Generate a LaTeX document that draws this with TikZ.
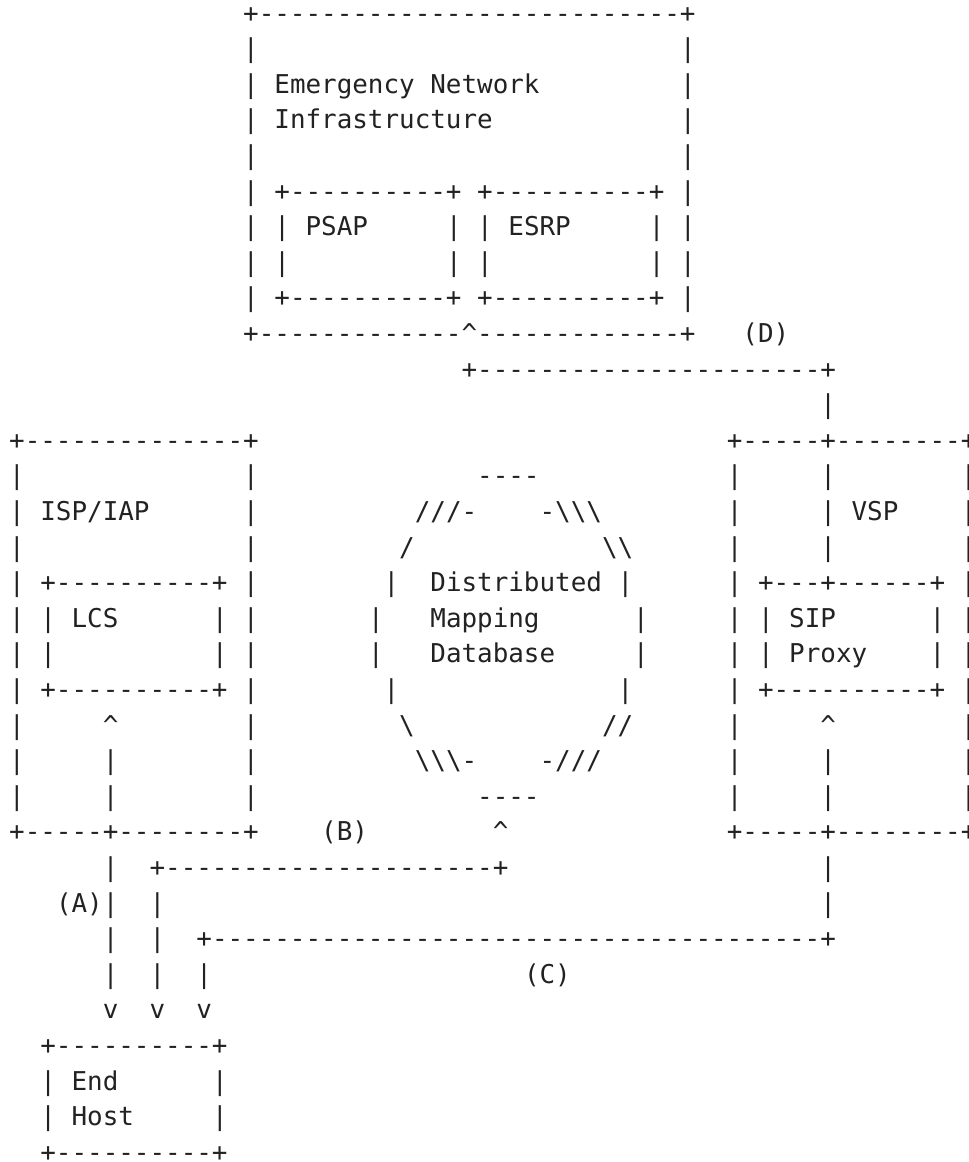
\documentclass[tikz,border=0pt]{standalone}
\usepackage{fontspec}
\setmonofont{DejaVu Sans Mono}
\definecolor{ink}{HTML}{222222}
\tikzset{seg/.style={anchor=base west, inner sep=0pt, outer sep=0pt, text=ink,
  font=\ttfamily\fontsize{25.91pt}{35.6pt}\selectfont}}
% one text run of the ASCII figure: column, row, text
\newcommand\Seg[3]{\node[seg] (s#2-#1) at ({9.2pt+#1*15.6pt},{-22.1pt-#2*35.6pt}) {#3};}
\newcommand\Bars[2]{\foreach \c in {#2} {\Seg{\c}{#1}{|}}}
\newcommand\BS{\textbackslash}
\newcommand\UP{\textasciicircum}
\ExplSyntaxOn
\newcommand\Dash[1]{\prg_replicate:nn{#1}{-}}
\ExplSyntaxOff
\begin{document}
\begin{tikzpicture}
\useasboundingbox[fill=white] (0,0) rectangle (969pt,-1162pt);
% Emergency Network Infrastructure
\Seg{15}{0}{+\Dash{27}+}
\Bars{1}{15,43}
\Bars{2}{15,43}\Seg{17}{2}{Emergency Network}
\Bars{3}{15,43}\Seg{17}{3}{Infrastructure}
\Bars{4}{15,43}
\Bars{5}{15,43}\Seg{17}{5}{+\Dash{10}+}\Seg{30}{5}{+\Dash{10}+}
\Bars{6}{15,17,28,30,41,43}\Seg{19}{6}{PSAP}\Seg{32}{6}{ESRP}
\Bars{7}{15,17,28,30,41,43}
\Bars{8}{15,43}\Seg{17}{8}{+\Dash{10}+}\Seg{30}{8}{+\Dash{10}+}
\Seg{15}{9}{+\Dash{13}\UP\Dash{13}+}\Seg{47}{9}{(D)}
\Seg{29}{10}{+\Dash{22}+}
\Bars{11}{52}
% ISP/IAP, mapping database, VSP
\Seg{0}{12}{+\Dash{14}+}\Seg{46}{12}{+\Dash{5}+\Dash{8}+}
\Bars{13}{0,15,46,52,61}\Seg{30}{13}{----}
\Bars{14}{0,15,46,52,61}\Seg{2}{14}{ISP/IAP}\Seg{26}{14}{///-}\Seg{34}{14}{-\BS\BS\BS}\Seg{54}{14}{VSP}
\Bars{15}{0,15,46,52,61}\Seg{25}{15}{/}\Seg{38}{15}{\BS\BS}
\Bars{16}{0,15,24,39,46,61}\Seg{2}{16}{+\Dash{10}+}\Seg{27}{16}{Distributed}\Seg{48}{16}{+\Dash{3}+\Dash{6}+}
\Bars{17}{0,2,13,15,23,40,46,48,59,61}\Seg{4}{17}{LCS}\Seg{27}{17}{Mapping}\Seg{50}{17}{SIP}
\Bars{18}{0,2,13,15,23,40,46,48,59,61}\Seg{27}{18}{Database}\Seg{50}{18}{Proxy}
\Bars{19}{0,15,24,39,46,61}\Seg{2}{19}{+\Dash{10}+}\Seg{48}{19}{+\Dash{10}+}
\Bars{20}{0,15,46,61}\Seg{6}{20}{\UP}\Seg{25}{20}{\BS}\Seg{38}{20}{//}\Seg{52}{20}{\UP}
\Bars{21}{0,6,15,46,52,61}\Seg{26}{21}{\BS\BS\BS-}\Seg{34}{21}{-///}
\Bars{22}{0,6,15,46,52,61}\Seg{30}{22}{----}
\Seg{0}{23}{+\Dash{5}+\Dash{8}+}\Seg{20}{23}{(B)}\Seg{31}{23}{\UP}\Seg{46}{23}{+\Dash{5}+\Dash{8}+}
% connectors to the End Host
\Bars{24}{6,52}\Seg{9}{24}{+\Dash{21}+}
\Bars{25}{6,9,52}\Seg{3}{25}{(A)}
\Bars{26}{6,9}\Seg{12}{26}{+\Dash{39}+}
\Bars{27}{6,9,12}\Seg{33}{27}{(C)}
\foreach \c in {6,9,12} {\Seg{\c}{28}{v}}
\Seg{2}{29}{+\Dash{10}+}
\Bars{30}{2,13}\Seg{4}{30}{End}
\Bars{31}{2,13}\Seg{4}{31}{Host}
\Seg{2}{32}{+\Dash{10}+}
\end{tikzpicture}
\end{document}
